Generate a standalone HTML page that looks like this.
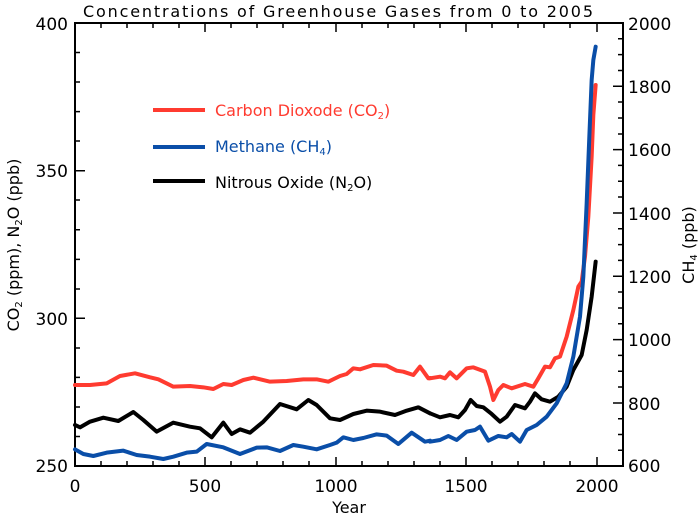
<!DOCTYPE html>
<html><head><style>
html,body{margin:0;padding:0;background:#fff;}
svg text{font-family:"DejaVu Sans","Liberation Sans",sans-serif;}
</style></head><body>
<svg width="700" height="518" viewBox="0 0 700 518" xmlns="http://www.w3.org/2000/svg">
<rect width="700" height="518" fill="#fff"/>
<text x="338" y="17" font-size="16" text-anchor="middle" fill="#000" textLength="510" lengthAdjust="spacing">Concentrations of Greenhouse Gases from 0 to 2005</text>
<g stroke="#000" stroke-width="2" fill="none">
<rect x="75" y="23" width="548" height="443"/>
</g>
<g stroke="#000" stroke-width="1.5">
<path d="M75 466v-9M101 466v-5M127 466v-5M153 466v-5M179 466v-5M205 466v-9M231 466v-5M257 466v-5M283 466v-5M309 466v-5M336 466v-9M362 466v-5M388 466v-5M414 466v-5M440 466v-5M466 466v-9M492 466v-5M518 466v-5M544 466v-5M570 466v-5M597 466v-9"/>
<path d="M75 23v9M101 23v5M127 23v5M153 23v5M179 23v5M205 23v9M231 23v5M257 23v5M283 23v5M309 23v5M336 23v9M362 23v5M388 23v5M414 23v5M440 23v5M466 23v9M492 23v5M518 23v5M544 23v5M570 23v5M597 23v9"/>
<path d="M75 23h10M75 52.5h5M75 82h5M75 111.6h5M75 141h5M75 170.7h10M75 200h5M75 229.8h5M75 259.4h5M75 289h5M75 318.3h10M75 348h5M75 377.4h5M75 407h5M75 436.5h5M75 466h10"/>
<path d="M623 23h-10M623 38.8h-5M623 54.6h-5M623 70.5h-5M623 86.3h-10M623 102h-5M623 118h-5M623 134h-5M623 149.6h-10M623 165.4h-5M623 181.3h-5M623 197h-5M623 213h-10M623 228.7h-5M623 244.6h-5M623 260.4h-5M623 276.2h-10M623 292h-5M623 308h-5M623 323.7h-5M623 339.6h-10M623 355.4h-5M623 371.2h-5M623 387h-5M623 403h-10M623 418.7h-5M623 434.5h-5M623 450.3h-5M623 466h-10"/>
</g>
<g font-size="17" fill="#000">
<text x="68" y="30" text-anchor="end">400</text>
<text x="68" y="177" text-anchor="end">350</text>
<text x="68" y="325" text-anchor="end">300</text>
<text x="68" y="472" text-anchor="end">250</text>
<text x="628" y="30">2000</text>
<text x="628" y="93">1800</text>
<text x="628" y="156">1600</text>
<text x="628" y="220">1400</text>
<text x="628" y="283">1200</text>
<text x="628" y="346">1000</text>
<text x="628" y="410">800</text>
<text x="628" y="472">600</text>
<text x="75" y="492" text-anchor="middle">0</text>
<text x="205" y="492" text-anchor="middle">500</text>
<text x="336" y="492" text-anchor="middle">1000</text>
<text x="466" y="492" text-anchor="middle">1500</text>
<text x="597" y="492" text-anchor="middle">2000</text>
<text x="349" y="513" text-anchor="middle" font-size="16">Year</text>
<text transform="translate(19,245) rotate(-90)" text-anchor="middle" font-size="16">CO<tspan font-size="10" dy="3">2</tspan><tspan dy="-3"> (ppm), N</tspan><tspan font-size="10" dy="3">2</tspan><tspan dy="-3">O (ppb)</tspan></text>
<text transform="translate(694,245) rotate(-90)" text-anchor="middle" font-size="16">CH<tspan font-size="10" dy="3">4</tspan><tspan dy="-3"> (ppb)</tspan></text>
</g>
<g stroke-width="4">
<line x1="153" y1="110" x2="205" y2="110" stroke="#ff3b30"/>
<line x1="153" y1="147" x2="205" y2="147" stroke="#0a4ea8"/>
<line x1="153" y1="181" x2="205" y2="181" stroke="#000"/>
</g>
<g font-size="16">
<text x="215" y="116" fill="#ff3b30">Carbon Dioxode (CO<tspan font-size="10" dy="3">2</tspan><tspan dy="-3">)</tspan></text>
<text x="215" y="152" fill="#0a4ea8">Methane (CH<tspan font-size="10" dy="3">4</tspan><tspan dy="-3">)</tspan></text>
<text x="215" y="188" fill="#000">Nitrous Oxide (N<tspan font-size="10" dy="3">2</tspan><tspan dy="-3">O)</tspan></text>
</g>
<g transform="translate(70,350) scale(0.33333)" fill="none" stroke-width="12" stroke-linejoin="round" stroke-linecap="round">
<polyline stroke="#ff3b30" points="15,105 60,105 110,100 150,78 195,70 240,82 265,88 310,110 360,108 400,112 430,117 460,102 485,105 520,90 550,83 600,95 650,93 700,88 740,88 775,95 810,78 830,72 850,55 870,58 910,45 950,47 980,62 1000,65 1030,75 1050,50 1075,85 1080,84"/>
<polyline stroke="#000" points="15,225 30,232 60,215 100,203 145,213 190,186 220,210 260,245 310,218 360,230 390,235 425,262 460,218 485,252 510,238 540,248 580,215 630,162 680,178 715,150 740,165 780,205 810,210 850,192 890,182 930,185 975,195 1010,182 1045,172 1080,190"/>
<polyline stroke="#0a4ea8" points="15,298 40,312 70,318 110,308 160,302 200,315 240,320 280,327 310,320 350,308 380,305 410,282 460,292 510,312 560,293 590,292 630,303 670,285 700,290 740,298 780,285 800,278 820,262 850,270 880,264 920,253 950,257 985,282 1025,248 1065,275 1080,272"/>
</g>
<g transform="translate(430,30) scale(0.33333)" fill="none" stroke-width="12" stroke-linejoin="round" stroke-linecap="round">
<polyline stroke="#ff3b30" points="0,1045 30,1040 45,1045 60,1027 80,1045 110,1015 130,1012 165,1025 180,1070 190,1110 205,1080 220,1065 245,1075 285,1062 310,1070 325,1045 345,1010 360,1012 375,985 390,980 410,920 430,840 445,770 455,755 465,680 475,560 485,380 490,255 497,165"/>
<polyline stroke="#000" points="0,1150 30,1162 60,1155 85,1162 105,1140 122,1110 140,1128 160,1132 185,1152 210,1175 230,1160 255,1125 285,1135 300,1115 315,1090 335,1108 360,1115 385,1100 410,1070 430,1020 455,975 470,900 485,800 497,695"/>
<polyline stroke="#0a4ea8" points="0,1235 30,1230 55,1218 80,1230 110,1205 135,1200 150,1190 175,1232 205,1218 230,1222 245,1212 270,1235 290,1200 320,1185 350,1160 380,1120 410,1060 430,980 450,860 460,740 470,520 478,320 485,150 490,90 497,50"/>
</g>
</svg>
</body></html>
